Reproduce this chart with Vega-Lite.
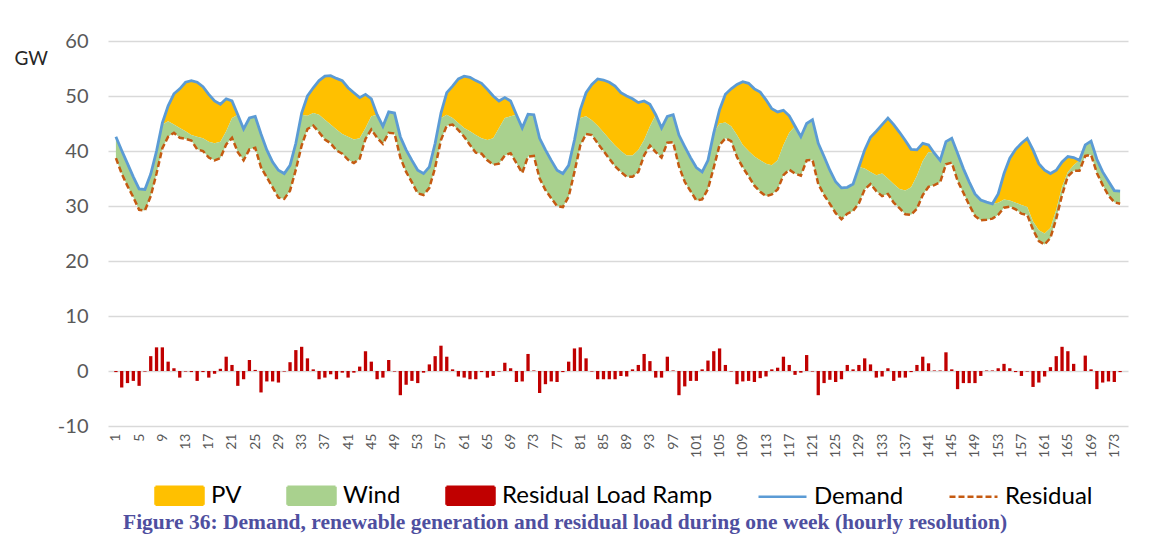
{
  "$schema": "https://vega.github.io/schema/vega-lite/v6.json",
  "width": 1020,
  "height": 385,
  "autosize": {"type": "none"},
  "padding": {"left": 108, "top": 41, "right": 34, "bottom": 121},
  "background": "white",
  "config": {"view": {"stroke": null}, "font": "Lato"},
  "title": {
    "text": "Figure 36: Demand, renewable generation and residual load during one week (hourly resolution)",
    "orient": "bottom",
    "anchor": "start",
    "frame": "group",
    "dx": 15,
    "offset": 2,
    "font": "Liberation Serif",
    "fontSize": 21.5,
    "fontWeight": "bold",
    "color": "#4F4F9F"
  },
  "data": {"values": [
    {"hour":1,"demand":42.6,"wind_top":42.6,"residual":38.7,"ramp":-0.2},
    {"hour":2,"demand":40.1,"wind_top":40.1,"residual":35.9,"ramp":-3.0},
    {"hour":3,"demand":37.7,"wind_top":37.7,"residual":33.6,"ramp":-2.2},
    {"hour":4,"demand":35.3,"wind_top":35.3,"residual":31.6,"ramp":-1.8},
    {"hour":5,"demand":33.1,"wind_top":33.1,"residual":29.3,"ramp":-2.7},
    {"hour":6,"demand":33.0,"wind_top":33.0,"residual":29.2,"ramp":-0.1},
    {"hour":7,"demand":35.8,"wind_top":35.8,"residual":31.8,"ramp":2.7},
    {"hour":8,"demand":40.0,"wind_top":40.0,"residual":35.9,"ramp":4.3},
    {"hour":9,"demand":45.1,"wind_top":44.8,"residual":40.5,"ramp":4.3},
    {"hour":10,"demand":48.2,"wind_top":45.4,"residual":42.6,"ramp":1.7},
    {"hour":11,"demand":50.4,"wind_top":44.8,"residual":43.3,"ramp":0.5},
    {"hour":12,"demand":51.3,"wind_top":44.2,"residual":42.4,"ramp":-1.2},
    {"hour":13,"demand":52.5,"wind_top":43.6,"residual":42.2,"ramp":-0.1},
    {"hour":14,"demand":52.8,"wind_top":42.9,"residual":41.9,"ramp":-0.2},
    {"hour":15,"demand":52.5,"wind_top":42.6,"residual":40.3,"ramp":-1.8},
    {"hour":16,"demand":51.7,"wind_top":42.3,"residual":40.0,"ramp":-0.2},
    {"hour":17,"demand":50.3,"wind_top":41.7,"residual":38.8,"ramp":-1.2},
    {"hour":18,"demand":49.1,"wind_top":41.4,"residual":38.3,"ramp":-0.5},
    {"hour":19,"demand":48.5,"wind_top":41.7,"residual":38.7,"ramp":0.4},
    {"hour":20,"demand":49.5,"wind_top":43.6,"residual":41.2,"ramp":2.6},
    {"hour":21,"demand":49.1,"wind_top":46.0,"residual":42.4,"ramp":1.1},
    {"hour":22,"demand":46.6,"wind_top":46.6,"residual":39.8,"ramp":-2.7},
    {"hour":23,"demand":44.0,"wind_top":44.0,"residual":38.3,"ramp":-1.5},
    {"hour":24,"demand":46.0,"wind_top":46.0,"residual":40.3,"ramp":2.0},
    {"hour":25,"demand":46.3,"wind_top":46.3,"residual":40.6,"ramp":0.2},
    {"hour":26,"demand":43.1,"wind_top":43.1,"residual":37.0,"ramp":-3.9},
    {"hour":27,"demand":40.2,"wind_top":40.2,"residual":35.2,"ramp":-1.9},
    {"hour":28,"demand":38.0,"wind_top":38.0,"residual":33.4,"ramp":-1.9},
    {"hour":29,"demand":36.5,"wind_top":36.5,"residual":31.5,"ramp":-2.1},
    {"hour":30,"demand":35.9,"wind_top":35.9,"residual":31.3,"ramp":-0.1},
    {"hour":31,"demand":37.4,"wind_top":37.4,"residual":32.8,"ramp":1.6},
    {"hour":32,"demand":41.4,"wind_top":41.4,"residual":36.6,"ramp":3.8},
    {"hour":33,"demand":46.9,"wind_top":46.6,"residual":41.0,"ramp":4.4},
    {"hour":34,"demand":50.0,"wind_top":46.4,"residual":44.0,"ramp":2.3},
    {"hour":35,"demand":51.5,"wind_top":46.9,"residual":44.6,"ramp":0.3},
    {"hour":36,"demand":52.8,"wind_top":46.6,"residual":43.4,"ramp":-1.5},
    {"hour":37,"demand":53.6,"wind_top":45.7,"residual":42.1,"ramp":-1.2},
    {"hour":38,"demand":53.7,"wind_top":44.8,"residual":41.4,"ramp":-0.6},
    {"hour":39,"demand":53.2,"wind_top":43.9,"residual":40.1,"ramp":-1.5},
    {"hour":40,"demand":52.8,"wind_top":43.1,"residual":39.5,"ramp":-0.3},
    {"hour":41,"demand":51.5,"wind_top":42.6,"residual":38.4,"ramp":-1.2},
    {"hour":42,"demand":50.6,"wind_top":42.1,"residual":37.8,"ramp":-0.3},
    {"hour":43,"demand":49.7,"wind_top":42.3,"residual":38.6,"ramp":0.8},
    {"hour":44,"demand":50.3,"wind_top":44.2,"residual":42.2,"ramp":3.6},
    {"hour":45,"demand":49.5,"wind_top":46.3,"residual":43.9,"ramp":1.7},
    {"hour":46,"demand":46.6,"wind_top":46.6,"residual":42.4,"ramp":-1.5},
    {"hour":47,"demand":44.5,"wind_top":44.5,"residual":41.3,"ramp":-1.2},
    {"hour":48,"demand":47.1,"wind_top":47.1,"residual":43.3,"ramp":2.0},
    {"hour":49,"demand":46.9,"wind_top":46.9,"residual":43.2,"ramp":-0.1},
    {"hour":50,"demand":42.6,"wind_top":42.6,"residual":38.8,"ramp":-4.4},
    {"hour":51,"demand":40.2,"wind_top":40.2,"residual":36.2,"ramp":-2.5},
    {"hour":52,"demand":38.3,"wind_top":38.3,"residual":34.3,"ramp":-1.8},
    {"hour":53,"demand":36.5,"wind_top":36.5,"residual":32.3,"ramp":-2.2},
    {"hour":54,"demand":35.9,"wind_top":35.9,"residual":32.0,"ramp":-0.3},
    {"hour":55,"demand":37.1,"wind_top":37.1,"residual":33.3,"ramp":1.2},
    {"hour":56,"demand":41.4,"wind_top":41.4,"residual":37.0,"ramp":2.7},
    {"hour":57,"demand":46.9,"wind_top":46.0,"residual":42.0,"ramp":4.6},
    {"hour":58,"demand":50.6,"wind_top":46.6,"residual":44.6,"ramp":2.6},
    {"hour":59,"demand":51.8,"wind_top":46.0,"residual":44.8,"ramp":0.3},
    {"hour":60,"demand":53.1,"wind_top":45.1,"residual":43.8,"ramp":-1.0},
    {"hour":61,"demand":53.6,"wind_top":44.2,"residual":42.6,"ramp":-1.2},
    {"hour":62,"demand":53.4,"wind_top":43.6,"residual":41.1,"ramp":-1.5},
    {"hour":63,"demand":52.8,"wind_top":42.9,"residual":39.7,"ramp":-1.5},
    {"hour":64,"demand":52.3,"wind_top":42.3,"residual":39.5,"ramp":-0.2},
    {"hour":65,"demand":51.2,"wind_top":42.0,"residual":38.3,"ramp":-1.2},
    {"hour":66,"demand":50.0,"wind_top":42.3,"residual":37.5,"ramp":-0.9},
    {"hour":67,"demand":49.1,"wind_top":44.2,"residual":37.7,"ramp":-0.1},
    {"hour":68,"demand":49.7,"wind_top":46.0,"residual":39.2,"ramp":1.5},
    {"hour":69,"demand":49.1,"wind_top":46.3,"residual":39.6,"ramp":0.5},
    {"hour":70,"demand":46.6,"wind_top":46.6,"residual":37.8,"ramp":-2.0},
    {"hour":71,"demand":44.2,"wind_top":44.2,"residual":36.0,"ramp":-1.9},
    {"hour":72,"demand":46.7,"wind_top":46.7,"residual":39.0,"ramp":3.1},
    {"hour":73,"demand":46.6,"wind_top":46.6,"residual":39.1,"ramp":0.1},
    {"hour":74,"demand":42.3,"wind_top":42.3,"residual":35.0,"ramp":-4.0},
    {"hour":75,"demand":40.2,"wind_top":40.2,"residual":32.9,"ramp":-2.4},
    {"hour":76,"demand":38.3,"wind_top":38.3,"residual":31.4,"ramp":-1.9},
    {"hour":77,"demand":36.5,"wind_top":36.5,"residual":30.0,"ramp":-2.0},
    {"hour":78,"demand":35.9,"wind_top":35.9,"residual":29.8,"ramp":-0.2},
    {"hour":79,"demand":37.4,"wind_top":37.4,"residual":31.7,"ramp":1.7},
    {"hour":80,"demand":42.0,"wind_top":42.0,"residual":36.2,"ramp":4.1},
    {"hour":81,"demand":47.5,"wind_top":46.0,"residual":41.0,"ramp":4.3},
    {"hour":82,"demand":50.6,"wind_top":46.3,"residual":43.1,"ramp":2.3},
    {"hour":83,"demand":52.1,"wind_top":45.6,"residual":42.9,"ramp":-0.1},
    {"hour":84,"demand":53.1,"wind_top":44.6,"residual":41.4,"ramp":-1.5},
    {"hour":85,"demand":52.9,"wind_top":43.4,"residual":40.0,"ramp":-1.5},
    {"hour":86,"demand":52.5,"wind_top":42.2,"residual":38.6,"ramp":-1.5},
    {"hour":87,"demand":51.8,"wind_top":41.0,"residual":37.2,"ramp":-1.5},
    {"hour":88,"demand":50.6,"wind_top":40.0,"residual":36.2,"ramp":-0.9},
    {"hour":89,"demand":50.0,"wind_top":39.2,"residual":35.3,"ramp":-1.0},
    {"hour":90,"demand":49.5,"wind_top":39.2,"residual":35.3,"ramp":0.3},
    {"hour":91,"demand":48.8,"wind_top":40.2,"residual":36.2,"ramp":1.1},
    {"hour":92,"demand":49.1,"wind_top":42.0,"residual":39.2,"ramp":3.1},
    {"hour":93,"demand":48.5,"wind_top":44.5,"residual":41.0,"ramp":1.8},
    {"hour":94,"demand":46.6,"wind_top":46.6,"residual":39.8,"ramp":-1.2},
    {"hour":95,"demand":44.2,"wind_top":44.2,"residual":38.8,"ramp":-1.2},
    {"hour":96,"demand":46.3,"wind_top":46.3,"residual":41.5,"ramp":2.6},
    {"hour":97,"demand":46.6,"wind_top":46.6,"residual":41.6,"ramp":0.1},
    {"hour":98,"demand":42.9,"wind_top":42.9,"residual":37.2,"ramp":-4.4},
    {"hour":99,"demand":40.8,"wind_top":40.8,"residual":34.4,"ramp":-2.8},
    {"hour":100,"demand":38.8,"wind_top":38.8,"residual":32.7,"ramp":-1.8},
    {"hour":101,"demand":37.0,"wind_top":37.0,"residual":31.0,"ramp":-1.8},
    {"hour":102,"demand":36.2,"wind_top":36.2,"residual":31.2,"ramp":0.3},
    {"hour":103,"demand":38.3,"wind_top":38.3,"residual":33.1,"ramp":1.9},
    {"hour":104,"demand":43.3,"wind_top":43.3,"residual":37.0,"ramp":3.6},
    {"hour":105,"demand":47.5,"wind_top":45.0,"residual":41.1,"ramp":4.1},
    {"hour":106,"demand":50.3,"wind_top":45.2,"residual":42.3,"ramp":1.1},
    {"hour":107,"demand":51.3,"wind_top":44.5,"residual":41.8,"ramp":-0.1},
    {"hour":108,"demand":52.1,"wind_top":42.9,"residual":38.9,"ramp":-2.4},
    {"hour":109,"demand":52.6,"wind_top":41.1,"residual":37.0,"ramp":-1.9},
    {"hour":110,"demand":52.3,"wind_top":40.0,"residual":35.4,"ramp":-1.8},
    {"hour":111,"demand":51.3,"wind_top":39.0,"residual":33.7,"ramp":-2.0},
    {"hour":112,"demand":50.7,"wind_top":38.3,"residual":32.6,"ramp":-1.3},
    {"hour":113,"demand":49.3,"wind_top":37.7,"residual":31.8,"ramp":-1.0},
    {"hour":114,"demand":47.7,"wind_top":37.4,"residual":32.1,"ramp":0.3},
    {"hour":115,"demand":47.1,"wind_top":38.3,"residual":33.0,"ramp":0.6},
    {"hour":116,"demand":47.4,"wind_top":41.1,"residual":35.6,"ramp":2.6},
    {"hour":117,"demand":46.4,"wind_top":43.3,"residual":36.6,"ramp":1.1},
    {"hour":118,"demand":44.5,"wind_top":44.5,"residual":35.9,"ramp":-0.7},
    {"hour":119,"demand":42.6,"wind_top":42.6,"residual":35.5,"ramp":-0.3},
    {"hour":120,"demand":45.0,"wind_top":45.0,"residual":38.3,"ramp":2.9},
    {"hour":121,"demand":45.7,"wind_top":45.7,"residual":38.4,"ramp":-0.1},
    {"hour":122,"demand":41.4,"wind_top":41.4,"residual":34.0,"ramp":-4.4},
    {"hour":123,"demand":39.0,"wind_top":39.0,"residual":32.0,"ramp":-2.2},
    {"hour":124,"demand":36.5,"wind_top":36.5,"residual":30.4,"ramp":-1.6},
    {"hour":125,"demand":34.4,"wind_top":34.4,"residual":28.7,"ramp":-2.0},
    {"hour":126,"demand":33.3,"wind_top":33.3,"residual":27.6,"ramp":-1.5},
    {"hour":127,"demand":33.4,"wind_top":33.4,"residual":28.6,"ramp":1.1},
    {"hour":128,"demand":34.0,"wind_top":34.0,"residual":29.1,"ramp":0.3},
    {"hour":129,"demand":37.1,"wind_top":37.1,"residual":30.5,"ramp":1.1},
    {"hour":130,"demand":40.2,"wind_top":36.8,"residual":33.0,"ramp":2.3},
    {"hour":131,"demand":42.5,"wind_top":36.2,"residual":34.0,"ramp":1.2},
    {"hour":132,"demand":43.6,"wind_top":35.6,"residual":32.7,"ramp":-1.2},
    {"hour":133,"demand":44.8,"wind_top":35.9,"residual":31.8,"ramp":-1.0},
    {"hour":134,"demand":46.0,"wind_top":35.0,"residual":32.2,"ramp":0.5},
    {"hour":135,"demand":44.8,"wind_top":34.0,"residual":30.6,"ramp":-1.8},
    {"hour":136,"demand":43.4,"wind_top":33.1,"residual":29.6,"ramp":-1.2},
    {"hour":137,"demand":41.9,"wind_top":32.8,"residual":28.5,"ramp":-1.2},
    {"hour":138,"demand":40.3,"wind_top":33.4,"residual":28.4,"ramp":-0.2},
    {"hour":139,"demand":40.2,"wind_top":35.5,"residual":29.5,"ramp":1.1},
    {"hour":140,"demand":41.4,"wind_top":38.2,"residual":32.0,"ramp":2.6},
    {"hour":141,"demand":41.1,"wind_top":39.8,"residual":33.5,"ramp":1.4},
    {"hour":142,"demand":39.6,"wind_top":39.6,"residual":33.8,"ramp":0.1},
    {"hour":143,"demand":38.3,"wind_top":38.3,"residual":34.3,"ramp":0.1},
    {"hour":144,"demand":41.7,"wind_top":41.7,"residual":37.6,"ramp":3.4},
    {"hour":145,"demand":42.3,"wind_top":42.3,"residual":37.9,"ramp":0.3},
    {"hour":146,"demand":39.6,"wind_top":39.6,"residual":34.6,"ramp":-3.3},
    {"hour":147,"demand":36.8,"wind_top":36.8,"residual":32.4,"ramp":-2.2},
    {"hour":148,"demand":34.4,"wind_top":34.4,"residual":30.2,"ramp":-2.2},
    {"hour":149,"demand":32.2,"wind_top":32.2,"residual":28.2,"ramp":-2.2},
    {"hour":150,"demand":31.1,"wind_top":31.1,"residual":27.4,"ramp":-0.9},
    {"hour":151,"demand":30.7,"wind_top":30.7,"residual":27.5,"ramp":0.1},
    {"hour":152,"demand":30.4,"wind_top":30.4,"residual":27.7,"ramp":0.1},
    {"hour":153,"demand":32.2,"wind_top":30.6,"residual":28.4,"ramp":0.5},
    {"hour":154,"demand":35.9,"wind_top":31.2,"residual":29.7,"ramp":1.3},
    {"hour":155,"demand":38.7,"wind_top":31.0,"residual":29.9,"ramp":0.5},
    {"hour":156,"demand":40.3,"wind_top":30.6,"residual":29.4,"ramp":-0.2},
    {"hour":157,"demand":41.4,"wind_top":30.2,"residual":28.6,"ramp":-0.9},
    {"hour":158,"demand":42.3,"wind_top":29.8,"residual":28.4,"ramp":-0.1},
    {"hour":159,"demand":40.2,"wind_top":27.2,"residual":25.7,"ramp":-2.9},
    {"hour":160,"demand":37.7,"wind_top":25.6,"residual":23.6,"ramp":-2.1},
    {"hour":161,"demand":36.5,"wind_top":25.0,"residual":23.0,"ramp":-1.0},
    {"hour":162,"demand":35.9,"wind_top":26.0,"residual":24.2,"ramp":0.7},
    {"hour":163,"demand":36.5,"wind_top":29.3,"residual":27.7,"ramp":2.7},
    {"hour":164,"demand":38.0,"wind_top":33.5,"residual":32.0,"ramp":4.4},
    {"hour":165,"demand":39.0,"wind_top":36.2,"residual":35.4,"ramp":3.6},
    {"hour":166,"demand":38.8,"wind_top":37.4,"residual":36.4,"ramp":1.3},
    {"hour":167,"demand":38.3,"wind_top":38.3,"residual":36.4,"ramp":0.0},
    {"hour":168,"demand":41.1,"wind_top":41.1,"residual":39.1,"ramp":2.8},
    {"hour":169,"demand":41.8,"wind_top":41.8,"residual":39.3,"ramp":0.3},
    {"hour":170,"demand":38.5,"wind_top":38.5,"residual":36.0,"ramp":-3.3},
    {"hour":171,"demand":36.2,"wind_top":36.2,"residual":33.8,"ramp":-2.1},
    {"hour":172,"demand":34.5,"wind_top":34.5,"residual":31.9,"ramp":-1.9},
    {"hour":173,"demand":32.8,"wind_top":32.8,"residual":30.7,"ramp":-2.0},
    {"hour":174,"demand":32.7,"wind_top":32.7,"residual":30.4,"ramp":-0.2}
  ]},
  "encoding": {
    "x": {
      "field": "hour",
      "type": "quantitative",
      "scale": {"domain": [0.5, 174.5], "nice": false, "zero": false},
      "axis": {
        "title": null,
        "values": [1,5,9,13,17,21,25,29,33,37,41,45,49,53,57,61,65,69,73,77,81,85,89,93,97,101,105,109,113,117,121,125,129,133,137,141,145,149,153,157,161,165,169,173],
        "labelAngle": -90,
        "labelFont": "Lato",
        "labelFontSize": 14,
        "labelColor": "#595959",
        "labelPadding": 7,
        "ticks": false,
        "tickSize": 0,
        "domain": false,
        "grid": false,
        "labelOverlap": false
      }
    }
  },
  "layer": [
    {
      "mark": {"type": "area", "opacity": 1},
      "encoding": {
        "y": {
          "field": "demand",
          "type": "quantitative",
          "scale": {"domain": [-10, 60], "nice": false},
          "axis": {
            "values": [-10,0,10,20,30,40,50,60],
            "labelExpr": "replace(datum.label, '\u2212', '-')",
            "grid": true,
            "gridColor": "#D9D9D9",
            "gridWidth": 1.3,
            "domain": false,
            "ticks": false,
            "tickSize": 0,
            "labelPadding": 20,
            "labelFont": "Lato",
            "labelFontSize": 20,
            "labelColor": "#595959",
            "title": "GW",
            "titleAngle": 0,
            "titleX": -94,
            "titleY": 17,
            "titleAlign": "left",
            "titleBaseline": "middle",
            "titleFont": "Lato",
            "titleFontSize": 19,
            "titleFontWeight": "normal",
            "titleColor": "#262626"
          }
        },
        "y2": {"field": "wind_top"},
        "color": {
          "datum": "PV",
          "type": "nominal",
          "scale": {
            "domain": ["PV", "Wind", "Residual Load Ramp", "Demand", "Residual"],
            "range": ["#FFC000", "#A9D18E", "#C00000", "#5B9BD5", "#C55A11"]
          },
          "legend": {
            "title": null, "orient": "none", "legendX": 46, "legendY": 429,
            "direction": "horizontal", "columns": 5, "columnPadding": 40,
            "labelFont": "Lato", "labelFontSize": 24, "labelColor": "#000000", "labelOffset": 6, "labelLimit": 0,
            "symbolSize": 2304, "symbolStrokeWidth": 2.5,
            "encode": {"symbols": {"update": {
              "shape": {"signal": "datum.value === 'Demand' || datum.value === 'Residual' ? 'M-1,0H1' : 'M-1,-0.375H1V0.375H-1Z'"},
              "fill": {"signal": "datum.value === 'PV' ? '#FFC000' : datum.value === 'Wind' ? '#A9D18E' : datum.value === 'Residual Load Ramp' ? '#C00000' : 'transparent'"},
              "stroke": {"signal": "datum.value === 'Demand' ? '#5B9BD5' : datum.value === 'Residual' ? '#C55A11' : 'transparent'"},
              "strokeWidth": {"value": 2.5},
              "strokeDash": {"signal": "datum.value === 'Residual' ? [6, 3] : [1, 0]"},
              "opacity": {"value": 1}, "fillOpacity": {"value": 1}
            }}}
          }
        }
      }
    },
    {
      "mark": {"type": "area", "opacity": 1},
      "encoding": {
        "y": {"field": "wind_top", "type": "quantitative"},
        "y2": {"field": "residual"},
        "color": {
          "datum": "Wind", "type": "nominal",
          "legend": {
            "title": null, "orient": "none", "legendX": 46, "legendY": 429,
            "direction": "horizontal", "columns": 5, "columnPadding": 40,
            "labelFont": "Lato", "labelFontSize": 24, "labelColor": "#000000", "labelOffset": 6, "labelLimit": 0,
            "symbolSize": 2304, "symbolStrokeWidth": 2.5,
            "encode": {"symbols": {"update": {
              "shape": {"signal": "datum.value === 'Demand' || datum.value === 'Residual' ? 'M-1,0H1' : 'M-1,-0.375H1V0.375H-1Z'"},
              "fill": {"signal": "datum.value === 'PV' ? '#FFC000' : datum.value === 'Wind' ? '#A9D18E' : datum.value === 'Residual Load Ramp' ? '#C00000' : 'transparent'"},
              "stroke": {"signal": "datum.value === 'Demand' ? '#5B9BD5' : datum.value === 'Residual' ? '#C55A11' : 'transparent'"},
              "strokeWidth": {"value": 2.5},
              "strokeDash": {"signal": "datum.value === 'Residual' ? [6, 3] : [1, 0]"},
              "opacity": {"value": 1}, "fillOpacity": {"value": 1}
            }}}
          }
        }
      }
    },
    {
      "mark": {"type": "bar", "size": 3.3},
      "encoding": {
        "y": {"field": "ramp", "type": "quantitative"},
        "color": {
          "datum": "Residual Load Ramp", "type": "nominal",
          "legend": {
            "title": null, "orient": "none", "legendX": 46, "legendY": 429,
            "direction": "horizontal", "columns": 5, "columnPadding": 40,
            "labelFont": "Lato", "labelFontSize": 24, "labelColor": "#000000", "labelOffset": 6, "labelLimit": 0,
            "symbolSize": 2304, "symbolStrokeWidth": 2.5,
            "encode": {"symbols": {"update": {
              "shape": {"signal": "datum.value === 'Demand' || datum.value === 'Residual' ? 'M-1,0H1' : 'M-1,-0.375H1V0.375H-1Z'"},
              "fill": {"signal": "datum.value === 'PV' ? '#FFC000' : datum.value === 'Wind' ? '#A9D18E' : datum.value === 'Residual Load Ramp' ? '#C00000' : 'transparent'"},
              "stroke": {"signal": "datum.value === 'Demand' ? '#5B9BD5' : datum.value === 'Residual' ? '#C55A11' : 'transparent'"},
              "strokeWidth": {"value": 2.5},
              "strokeDash": {"signal": "datum.value === 'Residual' ? [6, 3] : [1, 0]"},
              "opacity": {"value": 1}, "fillOpacity": {"value": 1}
            }}}
          }
        }
      }
    },
    {
      "mark": {"type": "line", "strokeWidth": 2.5, "strokeDash": [6, 3]},
      "encoding": {
        "y": {"field": "residual", "type": "quantitative"},
        "color": {
          "datum": "Residual", "type": "nominal",
          "legend": {
            "title": null, "orient": "none", "legendX": 46, "legendY": 429,
            "direction": "horizontal", "columns": 5, "columnPadding": 40,
            "labelFont": "Lato", "labelFontSize": 24, "labelColor": "#000000", "labelOffset": 6, "labelLimit": 0,
            "symbolSize": 2304, "symbolStrokeWidth": 2.5,
            "encode": {"symbols": {"update": {
              "shape": {"signal": "datum.value === 'Demand' || datum.value === 'Residual' ? 'M-1,0H1' : 'M-1,-0.375H1V0.375H-1Z'"},
              "fill": {"signal": "datum.value === 'PV' ? '#FFC000' : datum.value === 'Wind' ? '#A9D18E' : datum.value === 'Residual Load Ramp' ? '#C00000' : 'transparent'"},
              "stroke": {"signal": "datum.value === 'Demand' ? '#5B9BD5' : datum.value === 'Residual' ? '#C55A11' : 'transparent'"},
              "strokeWidth": {"value": 2.5},
              "strokeDash": {"signal": "datum.value === 'Residual' ? [6, 3] : [1, 0]"},
              "opacity": {"value": 1}, "fillOpacity": {"value": 1}
            }}}
          }
        }
      }
    },
    {
      "mark": {"type": "line", "strokeWidth": 2.8},
      "encoding": {
        "y": {"field": "demand", "type": "quantitative"},
        "color": {
          "datum": "Demand", "type": "nominal",
          "legend": {
            "title": null, "orient": "none", "legendX": 46, "legendY": 429,
            "direction": "horizontal", "columns": 5, "columnPadding": 40,
            "labelFont": "Lato", "labelFontSize": 24, "labelColor": "#000000", "labelOffset": 6, "labelLimit": 0,
            "symbolSize": 2304, "symbolStrokeWidth": 2.5,
            "encode": {"symbols": {"update": {
              "shape": {"signal": "datum.value === 'Demand' || datum.value === 'Residual' ? 'M-1,0H1' : 'M-1,-0.375H1V0.375H-1Z'"},
              "fill": {"signal": "datum.value === 'PV' ? '#FFC000' : datum.value === 'Wind' ? '#A9D18E' : datum.value === 'Residual Load Ramp' ? '#C00000' : 'transparent'"},
              "stroke": {"signal": "datum.value === 'Demand' ? '#5B9BD5' : datum.value === 'Residual' ? '#C55A11' : 'transparent'"},
              "strokeWidth": {"value": 2.5},
              "strokeDash": {"signal": "datum.value === 'Residual' ? [6, 3] : [1, 0]"},
              "opacity": {"value": 1}, "fillOpacity": {"value": 1}
            }}}
          }
        }
      }
    }
  ]
}
